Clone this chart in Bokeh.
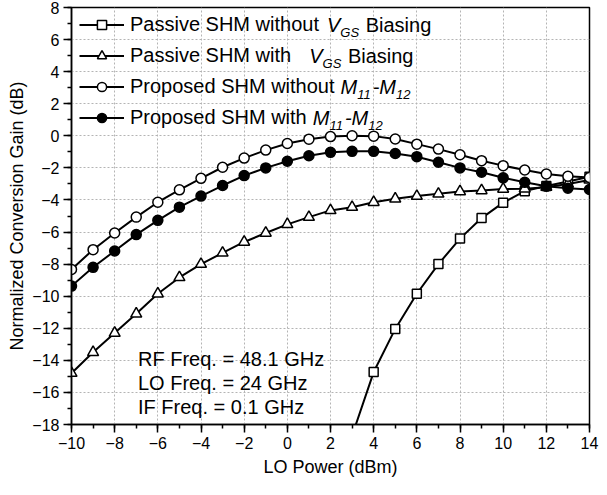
from bokeh.plotting import figure
from bokeh.models import Legend, LegendItem, Label, FixedTicker
from bokeh.embed import file_html
from bokeh.resources import INLINE

# ---------------- data ----------------
lo_power = [-10, -9, -8, -7, -6, -5, -4, -3, -2, -1, 0, 1, 2, 3, 4, 5, 6, 7, 8, 9, 10, 11, 12, 13, 14]
sq_power = [3, 4, 5, 6, 7, 8, 9, 10, 11, 12, 13, 14]
passive_no_bias = [-18.7, -14.73, -12.04, -9.85, -8.0, -6.41, -5.13, -4.17, -3.45, -3.13, -2.85, -2.55]
passive_bias = [-14.8, -13.5, -12.3, -11.1, -9.85, -8.83, -8.0, -7.3, -6.62, -6.06, -5.52, -5.07,
                -4.65, -4.45, -4.14, -3.93, -3.76, -3.62, -3.47, -3.41, -3.32, -3.3, -3.2, -3.0, -2.75]
proposed_without = [-8.33, -7.1, -6.06, -5.07, -4.14, -3.37, -2.65, -1.96, -1.39, -0.89, -0.48, -0.21,
                    -0.05, 0.0, -0.02, -0.2, -0.52, -0.83, -1.18, -1.55, -1.86, -2.13, -2.38, -2.52, -2.6]
proposed_with = [-9.37, -8.2, -7.18, -6.16, -5.27, -4.45, -3.76, -3.10, -2.48, -2.0, -1.59, -1.24,
                 -1.03, -0.97, -0.97, -1.1, -1.3, -1.65, -2.0, -2.27, -2.62, -2.9, -3.15, -3.27, -3.35]
x_ticks = list(range(-10, 15, 2))
y_ticks = list(range(-18, 9, 2))
notes = ["RF Freq. = 48.1 GHz", "LO Freq. = 24 GHz", "IF Freq. = 0.1 GHz"]

FONT = "Liberation Sans"
X0, X1, Y0, Y1 = -10, 14, -18, 8
FW, FH = 518, 417

p = figure(frame_width=FW, frame_height=FH, x_range=(X0, X1), y_range=(Y0, Y1),
           output_backend="svg", toolbar_location=None,
           min_border_left=71, min_border_right=10, min_border_top=7, min_border_bottom=60)
p.background_fill_color = "white"
p.border_fill_color = "white"
p.outline_line_color = "black"
p.outline_line_width = 1.5

for ax in (p.xaxis[0], p.yaxis[0]):
    ax.axis_line_width = 1.5
    ax.major_tick_line_width = 1.5
    ax.minor_tick_line_width = 1.5
    ax.major_tick_out = 8
    ax.major_tick_in = 0
    ax.minor_tick_out = 4
    ax.minor_tick_in = 0
    ax.major_label_text_font = FONT
    ax.major_label_text_font_size = "16px"
    ax.major_label_text_color = "black"
    ax.axis_label_text_font = FONT
    ax.axis_label_text_font_size = "18px"
    ax.axis_label_text_font_style = "normal"
    ax.axis_label_text_color = "black"
    ax.major_label_standoff = 4

p.xaxis.ticker = FixedTicker(ticks=x_ticks, minor_ticks=list(range(-10, 15)))
p.yaxis.ticker = FixedTicker(ticks=y_ticks, minor_ticks=list(range(-18, 9)))
p.xaxis.axis_label = "LO Power (dBm)"
p.yaxis.axis_label = "Normalized Conversion Gain (dB)"
p.xaxis.axis_label_standoff = 5
p.yaxis.axis_label_standoff = 2

for g in (p.xgrid[0], p.ygrid[0]):
    g.grid_line_color = "#b4b4b4"
    g.grid_line_dash = "2 2"
    g.grid_line_width = 1

LW = 2
l1 = p.line(sq_power, passive_no_bias, line_color="black", line_width=LW)
m1 = p.scatter(sq_power, passive_no_bias, marker="square", size=9, fill_color="white",
               line_color="black", line_width=1.5)
l2 = p.line(lo_power, passive_bias, line_color="black", line_width=LW)
m2 = p.scatter(lo_power, passive_bias, marker="triangle", size=11, fill_color="white",
               line_color="black", line_width=1.5)
l3 = p.line(lo_power, proposed_without, line_color="black", line_width=LW)
m3 = p.scatter(lo_power, proposed_without, marker="circle", size=10, fill_color="white",
               line_color="black", line_width=1.5)
l4 = p.line(lo_power, proposed_with, line_color="black", line_width=LW)
m4 = p.scatter(lo_power, proposed_with, marker="circle", size=10, fill_color="black",
               line_color="black", line_width=1.5)

main_labels = ["Passive SHM without", "Passive SHM with", "Proposed SHM without", "Proposed SHM with"]
legend = Legend(items=[
    LegendItem(label=main_labels[0], renderers=[l1, m1]),
    LegendItem(label=main_labels[1], renderers=[l2, m2]),
    LegendItem(label=main_labels[2], renderers=[l3, m3]),
    LegendItem(label=main_labels[3], renderers=[l4, m4]),
], location=(8, 295), padding=0, margin=0, spacing=8, glyph_width=45, glyph_height=23,
   label_height=23, label_standoff=6, background_fill_alpha=0, border_line_alpha=0,
   label_text_font=FONT, label_text_font_size="20px", label_text_color="black")
p.add_layout(legend, "center")

# Arial / Liberation Sans advance widths (per 1000 em)
W = {' ': 278, '(': 333, ')': 333, '-': 333, '.': 278, '=': 584,
     'A': 667, 'B': 667, 'C': 722, 'D': 722, 'E': 667, 'F': 611, 'G': 778, 'H': 722, 'I': 278,
     'L': 556, 'M': 833, 'N': 722, 'O': 778, 'P': 667, 'R': 722, 'S': 667, 'V': 667,
     'a': 556, 'b': 556, 'c': 500, 'd': 556, 'e': 556, 'f': 278, 'g': 556, 'h': 556, 'i': 222,
     'l': 222, 'm': 833, 'n': 556, 'o': 556, 'p': 556, 'q': 556, 'r': 333, 's': 500, 't': 278,
     'u': 556, 'v': 500, 'w': 722, 'z': 500}
for d in "0123456789":
    W[d] = 556


def tw(s, size):
    return sum(W.get(c, 556) for c in s) * size / 1000.0


def px2x(px):
    return X0 + px * (X1 - X0) / FW


def px2y(py):
    return Y1 - py * (Y1 - Y0) / FH


TEXT_X = 8 + 45 + 6      # px from frame left where legend text starts
ROW0 = 6 + 11.5          # px from frame top of first legend row centre
ROW_H = 31
BIG, SMALL = 20, 13
extra_gap = [2, 12, 0, 0]   # extra space before the italic symbol, as in the original

suffixes = [
    [("V", "italic", BIG, 0), ("GS", "italic", SMALL, 1), (" ", None, BIG, 0), ("Biasing", "normal", BIG, 0)],
    [("V", "italic", BIG, 0), ("GS", "italic", SMALL, 1), (" ", None, BIG, 0), ("Biasing", "normal", BIG, 0)],
    [("M", "italic", BIG, 0), ("11", "italic", SMALL, 1), ("-M", "italic", BIG, 0), ("12", "italic", SMALL, 1)],
    [("M", "italic", BIG, 0), ("11", "italic", SMALL, 1), ("-M", "italic", BIG, 0), ("12", "italic", SMALL, 1)],
]
for i, (main, parts) in enumerate(zip(main_labels, suffixes)):
    cx = TEXT_X + tw(main + " ", BIG) + extra_gap[i]
    cy = ROW0 + i * ROW_H
    for txt, style, size, sub in parts:
        if style is not None:
            p.add_layout(Label(x=px2x(cx), y=px2y(cy + (7 if sub else 0)), text=txt,
                               text_font=FONT, text_font_size=f"{size}px", text_font_style=style,
                               text_baseline="middle", text_align="left", text_color="black"))
        cx += tw(txt, size) + (1 if sub else 0)

note_x = -6.92
note_y = [-13.9, -15.4, -16.9]
for txt, yy in zip(notes, note_y):
    p.add_layout(Label(x=note_x, y=yy, text=txt, text_font=FONT, text_font_size="20px",
                       text_baseline="middle", text_align="left", text_color="black"))

open("out.html", "w").write(file_html(p, INLINE))
